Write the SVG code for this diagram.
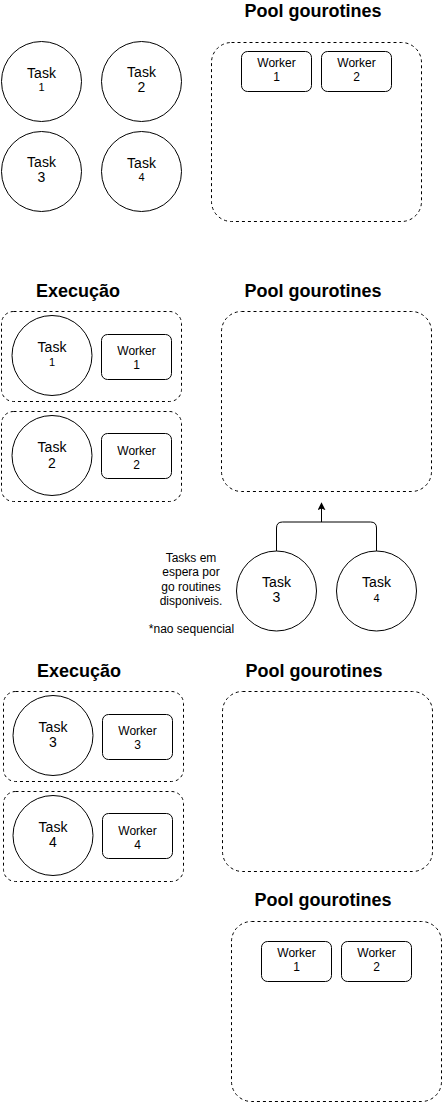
<svg xmlns="http://www.w3.org/2000/svg" width="442" height="1102" viewBox="0 0 442 1102">
<defs>
<style>
.bg{fill:#fff}
.c{fill:#fff;stroke:#000;stroke-width:1}
.w{fill:#fff;stroke:#000;stroke-width:1}
.d{fill:none;stroke:#000;stroke-width:1;stroke-dasharray:3 3}
.t{font-family:"Liberation Sans",Arial,sans-serif;text-anchor:middle;fill:#000}
.tk{font-size:14px}
.n{font-size:14px}
.ns{font-size:11px}
.wk{font-size:12px}
.h{font-size:18px;font-weight:bold}
.lbl{font-size:12px}
.e{fill:none;stroke:#000;stroke-width:1}
</style>
<marker id="arr" viewBox="0 0 10 10" refX="9" refY="5" markerWidth="8" markerHeight="8" markerUnits="userSpaceOnUse" orient="auto">
<path d="M0,0 L10,5 L0,10 L2,5 Z" fill="#000"/>
</marker>
</defs>
<rect class="bg" x="0" y="0" width="442" height="1102"/>

<!-- Section 1 -->
<g id="s1-title"><text class="t h" x="313" y="17">Pool gourotines</text></g>
<g id="s1-pool"><rect class="d" x="211.5" y="42.5" width="210" height="179" rx="20"/></g>
<g id="s1-task1"><circle class="c" cx="41.5" cy="81.5" r="40"/><text class="t tk" x="41.5" y="77.5">Task</text><text class="t ns" x="41.5" y="91">1</text></g>
<g id="s1-task2"><circle class="c" cx="141.5" cy="81.5" r="40"/><text class="t tk" x="141.5" y="77">Task</text><text class="t n" x="141.5" y="92">2</text></g>
<g id="s1-task3"><circle class="c" cx="41.5" cy="171.5" r="40"/><text class="t tk" x="41.5" y="167">Task</text><text class="t n" x="41.5" y="182">3</text></g>
<g id="s1-task4"><circle class="c" cx="141.5" cy="171.5" r="40"/><text class="t tk" x="141.5" y="167.5">Task</text><text class="t ns" x="141.5" y="181">4</text></g>
<g id="s1-worker1"><rect class="w" x="241.5" y="51.5" width="70" height="40" rx="6"/><text class="t wk" x="276.5" y="67">Worker</text><text class="t wk" x="276.5" y="81">1</text></g>
<g id="s1-worker2"><rect class="w" x="321.5" y="51.5" width="70" height="40" rx="6"/><text class="t wk" x="356.5" y="67">Worker</text><text class="t wk" x="356.5" y="81">2</text></g>

<!-- Section 2 -->
<g id="s2-title-exec"><text class="t h" x="78" y="297">Execução</text></g>
<g id="s2-title-pool"><text class="t h" x="313" y="297">Pool gourotines</text></g>
<g id="s2-pool"><rect class="d" x="221.5" y="311.5" width="210" height="180" rx="20"/></g>
<g id="s2-exec1"><rect class="d" x="1.5" y="311.5" width="180" height="90" rx="12"/>
<circle class="c" cx="52" cy="355.5" r="40"/><text class="t tk" x="52" y="352">Task</text><text class="t ns" x="52" y="366">1</text>
<rect class="w" x="101.5" y="334.5" width="70" height="45" rx="6"/><text class="t wk" x="136.5" y="355">Worker</text><text class="t wk" x="136.5" y="369">1</text></g>
<g id="s2-exec2"><rect class="d" x="1.5" y="411.5" width="180" height="90" rx="12"/>
<circle class="c" cx="52" cy="455.5" r="40"/><text class="t tk" x="52" y="452">Task</text><text class="t n" x="52" y="468">2</text>
<rect class="w" x="101.5" y="433.5" width="70" height="45" rx="6"/><text class="t wk" x="136.5" y="455">Worker</text><text class="t wk" x="136.5" y="469">2</text></g>
<g id="s2-task3"><circle class="c" cx="276.5" cy="591" r="40"/><text class="t tk" x="276.5" y="587">Task</text><text class="t n" x="276.5" y="602">3</text></g>
<g id="s2-task4"><circle class="c" cx="376.5" cy="591" r="40"/><text class="t tk" x="376.5" y="587">Task</text><text class="t ns" x="376.5" y="602">4</text></g>
<g id="s2-note"><text class="t lbl" x="191" y="562">Tasks em</text><text class="t lbl" x="191" y="576">espera por</text><text class="t lbl" x="191" y="591">go routines</text><text class="t lbl" x="191" y="605">disponiveis.</text><text class="t lbl" x="191.5" y="633">*nao sequencial</text></g>

<!-- Section 3 -->
<g id="s3-title-exec"><text class="t h" x="79" y="677">Execução</text></g>
<g id="s3-title-pool"><text class="t h" x="314" y="677">Pool gourotines</text></g>
<g id="s3-pool"><rect class="d" x="222.5" y="691.5" width="210" height="180" rx="20"/></g>
<g id="s3-exec1"><rect class="d" x="3.5" y="691.5" width="180" height="90" rx="12"/>
<circle class="c" cx="53" cy="735.5" r="40"/><text class="t tk" x="53" y="732">Task</text><text class="t n" x="53" y="747">3</text>
<rect class="w" x="102.5" y="714.5" width="70" height="45" rx="6"/><text class="t wk" x="137.5" y="735">Worker</text><text class="t wk" x="137.5" y="749">3</text></g>
<g id="s3-exec2"><rect class="d" x="3.5" y="791.5" width="180" height="90" rx="12"/>
<circle class="c" cx="53" cy="835.5" r="40"/><text class="t tk" x="53" y="832">Task</text><text class="t n" x="53" y="847">4</text>
<rect class="w" x="102.5" y="813.5" width="70" height="45" rx="6"/><text class="t wk" x="137.5" y="835">Worker</text><text class="t wk" x="137.5" y="849">4</text></g>

<!-- Section 4 -->
<g id="s4-title"><text class="t h" x="323" y="906">Pool gourotines</text></g>
<g id="s4-pool"><rect class="d" x="231.5" y="921.5" width="210" height="180" rx="20"/></g>
<g id="s4-worker1"><rect class="w" x="261.5" y="941.5" width="70" height="40" rx="6"/><text class="t wk" x="296.5" y="957">Worker</text><text class="t wk" x="296.5" y="971">1</text></g>
<g id="s4-worker2"><rect class="w" x="341.5" y="941.5" width="70" height="40" rx="6"/><text class="t wk" x="376.5" y="957">Worker</text><text class="t wk" x="376.5" y="971">2</text></g>

<!-- Connectors -->
<g id="connectors">
<path class="e" d="M276.5,551 V528 Q276.5,522 282.5,522 H370.5 Q376.5,522 376.5,528 V551"/>
<path class="e" d="M321.5,522 V503" marker-end="url(#arr)"/>
</g>
</svg>
